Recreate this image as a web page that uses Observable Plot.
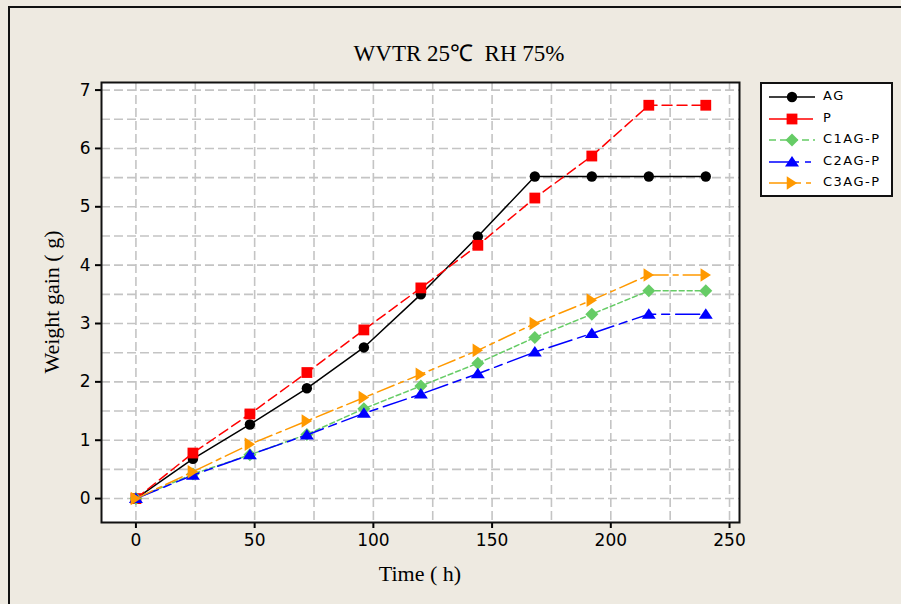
<!DOCTYPE html>
<html>
<head>
<meta charset="utf-8">
<script src="https://cdn.jsdelivr.net/npm/d3@7"></script>
<script src="https://cdn.jsdelivr.net/npm/@observablehq/plot@0.6"></script>
<style>
  html, body { margin: 0; padding: 0; background: #EEEAE1; }
  #wrap { position: relative; width: 901px; height: 604px; overflow: hidden; background: #EEEAE1; }
  #border { position: absolute; left: 8px; top: 6px; width: 1000px; height: 1000px; border-left: 2px solid #111; border-top: 2px solid #111; }
  #chart { position: absolute; left: 0; top: 0; }
  #title { position: absolute; left: 459px; top: 36px; transform: translateX(-50%); font-family: "Liberation Serif", "Times New Roman", serif; font-size: 23px; white-space: pre; color: #000; }
  #xlabel { position: absolute; left: 420px; top: 561px; transform: translateX(-50%); font-family: "Liberation Serif", serif; font-size: 22px; white-space: pre; }
  #ylabel { position: absolute; left: 52px; top: 302px; transform: translate(-50%, -50%) rotate(-90deg); font-family: "Liberation Serif", serif; font-size: 22px; white-space: pre; }
  #legend { position: absolute; left: 760px; top: 82px; width: 129px; height: 111px; background: #fff; border: 2px solid #111; }
  .lrow { position: absolute; left: 0; height: 20px; }
  .lrow svg { position: absolute; left: 2px; top: 0; }
  .lrow span { position: absolute; left: 61px; top: 1px; font-family: "DejaVu Sans", sans-serif; font-size: 13px; letter-spacing: 1.5px; white-space: pre; }
  g[aria-label="x-axis tick"] path, g[aria-label="y-axis tick"] path { stroke-width: 2; }
</style>
</head>
<body>
<div id="wrap">
  <div id="border"></div>
  <div id="chart"></div>
  <div id="title"></div>
  <div id="xlabel"></div>
  <div id="ylabel"></div>
  <div id="legend"></div>
</div>
<script>
// ---- data ----
const hours = [0, 24, 48, 72, 96, 120, 144, 168, 192, 216, 240];
const seriesNames = ["AG", "P", "C1AG-P", "C2AG-P", "C3AG-P"];
const AG   = [0, 0.68, 1.27, 1.89, 2.59, 3.50, 4.49, 5.52, 5.52, 5.52, 5.52];
const P    = [0, 0.78, 1.45, 2.16, 2.89, 3.61, 4.34, 5.15, 5.87, 6.74, 6.74];
const C1AG = [0, 0.42, 0.75, 1.10, 1.54, 1.93, 2.32, 2.76, 3.16, 3.56, 3.56];
const C2AG = [0, 0.40, 0.75, 1.09, 1.46, 1.79, 2.14, 2.51, 2.83, 3.16, 3.16];
const C3AG = [0, 0.46, 0.93, 1.33, 1.73, 2.13, 2.54, 3.00, 3.40, 3.83, 3.83];
const xTicks = [0, 50, 100, 150, 200, 250];
const yTicks = [0, 1, 2, 3, 4, 5, 6, 7];
const xGrid = [0, 25, 50, 75, 100, 125, 150, 175, 200, 225, 250];
const yGrid = [0, 0.5, 1, 1.5, 2, 2.5, 3, 3.5, 4, 4.5, 5, 5.5, 6, 6.5, 7];
const titleText = "WVTR 25\u2103  RH 75%";
const xLabelText = "Time ( h)";
const yLabelText = "Weight gain ( g)";

// ---- symbols ----
const squareSym = { draw(c, size) { const r = Math.sqrt(size / Math.PI); c.moveTo(-r, -r); c.lineTo(r, -r); c.lineTo(r, r); c.lineTo(-r, r); c.closePath(); } };
const diamondSym = { draw(c, size) { const r = Math.sqrt(size / Math.PI); c.moveTo(0, -r); c.lineTo(r, 0); c.lineTo(0, r); c.lineTo(-r, 0); c.closePath(); } };
const triUpSym = { draw(c, size) { const r = Math.sqrt(size / Math.PI); c.moveTo(0, -0.86 * r); c.lineTo(r, 0.64 * r); c.lineTo(-r, 0.64 * r); c.closePath(); } };
const triRightSym = { draw(c, size) { const r = Math.sqrt(size / Math.PI); c.moveTo(-0.77 * r, -r); c.lineTo(0.77 * r, 0); c.lineTo(-0.77 * r, r); c.closePath(); } };

const values = [AG, P, C1AG, C2AG, C3AG];
const styles = [
  { color: "#000000", dash: null,       legendDash: null,         symbol: "circle",    r: 5.2 },
  { color: "#FF0000", dash: "10,5",     legendDash: "21,2",       symbol: squareSym,   r: 5.4 },
  { color: "#66CC66", dash: "5,3",      legendDash: "7,4",        symbol: diamondSym,  r: 6.5 },
  { color: "#0000FF", dash: "24,6,8,6", legendDash: "30,6,6,10",  symbol: triUpSym,    r: 7 },
  { color: "#FF9900", dash: "18,5,5,5", legendDash: "32,5,5,10",  symbol: triRightSym, r: 6.8 }
];

const rowsBySeries = seriesNames.map((name, s) => hours.map((h, i) => ({ series: name, x: h, y: values[s][i] })));

const marks = [
  Plot.frame({ fill: "white" }),
  Plot.ruleX(xGrid, { stroke: "#c4c4c4", strokeWidth: 1.6, strokeDasharray: "9,4" }),
  Plot.ruleY(yGrid, { stroke: "#c4c4c4", strokeWidth: 1.6, strokeDasharray: "9,4" })
];
rowsBySeries.forEach((rows, s) => {
  const st = styles[s];
  marks.push(Plot.line(rows, { x: "x", y: "y", stroke: st.color, strokeWidth: 1.5, strokeDasharray: st.dash || undefined }));
  marks.push(Plot.dot(rows, { x: "x", y: "y", symbol: () => st.symbol, r: st.r, fill: st.color, stroke: "none" }));
});
marks.push(Plot.frame({ stroke: "#111", strokeWidth: 2 }));

const chart = Plot.plot({
  width: 901, height: 604,
  marginLeft: 101, marginRight: 162, marginTop: 82, marginBottom: 82,
  style: { background: "transparent", fontFamily: "DejaVu Sans, sans-serif", fontSize: "17px", color: "#000", overflow: "visible" },
  x: { domain: [-14.5, 254.2], ticks: xTicks, tickSize: 6, tickPadding: 5, tickFormat: d => String(d), label: null },
  y: { domain: [-0.41, 7.13], ticks: yTicks, tickSize: 6, tickPadding: 5, tickFormat: d => String(d), label: null },
  symbol: { type: "identity" },
  marks
});
document.getElementById("chart").appendChild(chart);

document.getElementById("title").textContent = titleText;
document.getElementById("xlabel").textContent = xLabelText;
document.getElementById("ylabel").textContent = yLabelText;

// ---- legend ----
const legend = document.getElementById("legend");
const rowTops = [3, 25, 46, 68, 89];
seriesNames.forEach((name, s) => {
  const st = styles[s];
  const row = document.createElement("div");
  row.className = "lrow";
  row.style.top = rowTops[s] + "px";
  const svg = d3.create("svg").attr("width", 54).attr("height", 20);
  svg.append("line").attr("x1", 5).attr("x2", 51).attr("y1", 10).attr("y2", 10)
    .attr("stroke", st.color).attr("stroke-width", 1.5).attr("stroke-dasharray", st.legendDash);
  const symType = typeof st.symbol === "string" ? d3.symbolCircle : st.symbol;
  svg.append("path").attr("transform", "translate(28,10)")
    .attr("d", d3.symbol(symType, st.r * st.r * Math.PI)())
    .attr("fill", st.color);
  row.appendChild(svg.node());
  const sp = document.createElement("span");
  sp.textContent = name;
  row.appendChild(sp);
  legend.appendChild(row);
});
</script>
</body>
</html>
